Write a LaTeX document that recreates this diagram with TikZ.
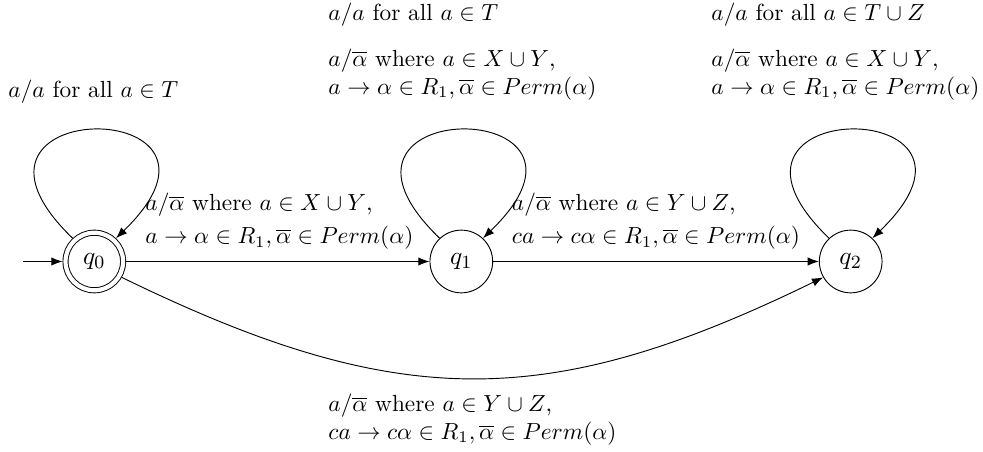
\documentclass[tikz,border=0pt]{standalone}
\usetikzlibrary{arrows.meta}
\tikzset{
  st/.style={circle, draw, minimum size=26.9pt, inner sep=0pt, font=\fontsize{11}{13}\selectfont},
  acc/.style={st, double, double distance=1.8pt, minimum size=24.7pt, outer sep=1.3pt},
  lbl/.style={anchor=north west, inner sep=0pt, align=left},
}
\begin{document}
\begin{tikzpicture}[x=0.429pt, y=0.429pt, >=Latex]
    \useasboundingbox (0,0) rectangle (983,452);

    \node[acc] (q0) at (94.3,190.5) {$q_0$};
    \node[st] (q1) at (461.3,190.5) {$q_1$};
    \node[st] (q2) at (850.7,190.5) {$q_2$};
    \coordinate (start) at (23,190.5);

    \draw[->] (start) -- (q0);
    \draw[->] (q0) -- (q1);
    \draw[->] (q1) -- (q2);
    \draw[->] (q0.-30) .. controls +(-26:307) and +(206:307) .. (q2.210);

    \foreach \q in {q0,q1,q2} {
      \draw[->] (\q.133) .. controls +(136:208) and +(44:208) .. (\q.47);
    }

    \node[lbl] (lq0) at (8,372) {$a/a$ for all $a\in T$};
    \node[lbl] (lq1) at (328,449.5) {$a/a$ for all $a\in T$\\[7.6pt]
      $a/\overline{\alpha}$ where $a\in X\cup Y$,\\
      $a\to\alpha\in R_1,\overline{\alpha}\in Perm(\alpha)$};
    \node[lbl] (lq2) at (711,449.5) {$a/a$ for all $a\in T\cup Z$\\[7.6pt]
      $a/\overline{\alpha}$ where $a\in X\cup Y$,\\
      $a\to\alpha\in R_1,\overline{\alpha}\in Perm(\alpha)$};
    \node[lbl] (l01) at (145,259.5) {$a/\overline{\alpha}$ where $a\in X\cup Y$,\\[2.2pt]
      $a\to\alpha\in R_1,\overline{\alpha}\in Perm(\alpha)$};
    \node[lbl] (l12) at (511.5,259.5) {$a/\overline{\alpha}$ where $a\in Y\cup Z$,\\[2.2pt]
      $ca\to c\alpha\in R_1,\overline{\alpha}\in Perm(\alpha)$};
    \node[lbl] (l02) at (328,58.5) {$a/\overline{\alpha}$ where $a\in Y\cup Z$,\\
      $ca\to c\alpha\in R_1,\overline{\alpha}\in Perm(\alpha)$};
\end{tikzpicture}
\end{document}
